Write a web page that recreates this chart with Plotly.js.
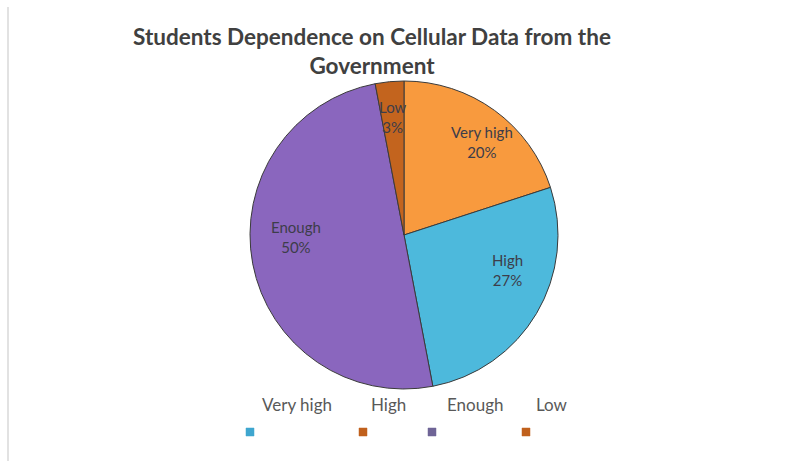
<!DOCTYPE html>
<html>
<head>
<meta charset="utf-8">
<script src="https://cdn.plot.ly/plotly-3.0.1.min.js"></script>
<style>
html,body{margin:0;padding:0;background:#fff;}
#chart{width:799px;height:461px;}
</style>
</head>
<body>
<div id="chart"></div>
<script>
// Data
var categories = ["Very high", "High", "Enough", "Low"];
var values = [20, 27, 50, 3];
var sliceColors = ["#F89A3E", "#4DB9DC", "#8A66BE", "#C3641E"];
// legend as drawn in the reference (markers do not match slices)
var legendLabels = ["Very high", "High", "Enough", "Low"];
var legendMarkerColors = ["#3FA6CF", "#C0601C", "#6F6496", "#C0601C"];

var W = 799, H = 461;
function px(x){ return x / W; }
function py(y){ return 1 - y / H; }

var cx = 404, cy = 235, R = 154;
var FONT = "Lato, 'Open Sans', sans-serif";

var trace = {
  type: "pie",
  labels: categories,
  values: values,
  sort: false,
  direction: "clockwise",
  rotation: 0,
  marker: { colors: sliceColors, line: { color: "#3a3a3a", width: 1 } },
  textinfo: "none",
  hoverinfo: "label+percent",
  domain: { x: [px(cx - R), px(cx + R)], y: [py(cy + R), py(cy - R)] },
  showlegend: false
};

// slice labels placed near the slice mid-angle (Excel-style best-fit data labels)
var total = values.reduce(function(a, b){ return a + b; }, 0);
var radialFrac = [0.79, 0.71, 0.70, 0.77];
var angleShift = [4, -12, 10, 0];
var annotations = [];
var cum = 0;
values.forEach(function(v, i){
  var mid = (cum + v / 2) / total * 2 * Math.PI + angleShift[i] * Math.PI / 180;
  cum += v;
  var r = R * radialFrac[i];
  var x = cx + r * Math.sin(mid), y = cy - r * Math.cos(mid);
  annotations.push({ text: categories[i] + "<br>" + Math.round(v / total * 100) + "%",
    x: px(x), y: py(y), xref: "paper", yref: "paper", xanchor: "center", yanchor: "middle",
    showarrow: false, font: { family: FONT, size: 15, color: "#3d3d4a" } });
});

var legendTextX = [297, 388, 475, 552];
var legendMarkX = [250, 363, 432, 526];
legendLabels.forEach(function(l, i){
  annotations.push({ text: l, x: px(legendTextX[i]), y: py(404), xref: "paper", yref: "paper",
           xanchor: "center", yanchor: "middle", showarrow: false,
           font: { family: FONT, size: 17, color: "#595959" } });
});
var shapes = legendMarkerColors.map(function(c, i){
  return { type: "rect", xref: "paper", yref: "paper",
           x0: px(legendMarkX[i] - 4), x1: px(legendMarkX[i] + 4),
           y0: py(436), y1: py(428), fillcolor: c, line: { color: c, width: 0.5 } };
});
shapes.push({ type: "line", xref: "paper", yref: "paper", x0: px(8), x1: px(8), y0: 0, y1: py(7),
              line: { color: "#d9d9d9", width: 1.5 } });

var layout = {
  width: W, height: H,
  margin: { l: 0, r: 0, t: 0, b: 0 },
  paper_bgcolor: "#ffffff",
  plot_bgcolor: "#ffffff",
  title: {
    text: "<b>Students Dependence on Cellular Data from the<br>Government</b>",
    x: px(372), xanchor: "center", xref: "paper",
    y: py(45), yanchor: "top", yref: "container",
    font: { family: FONT, size: 22.5, color: "#404040" }
  },
  annotations: annotations,
  shapes: shapes
};

Plotly.newPlot("chart", [trace], layout, { displayModeBar: false, staticPlot: true });
</script>
</body>
</html>
